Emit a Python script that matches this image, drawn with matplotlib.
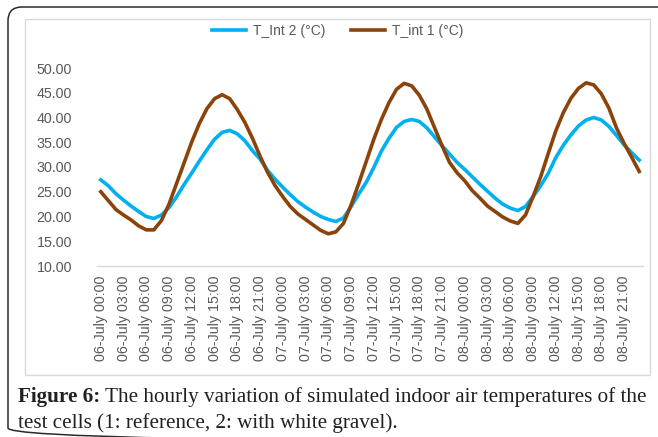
import numpy as np
import pandas as pd
import matplotlib
matplotlib.use("Agg")
import matplotlib.pyplot as plt
from matplotlib.patches import FancyBboxPatch, Rectangle

# ---------------------------------------------------------------------------
# Data (hourly values)
# ---------------------------------------------------------------------------
HOURS = pd.date_range("2017-07-06 00:00", periods=72, freq="h")
TICK_LABELS = [t.strftime("%d-%B %H:%M") for t in HOURS[::3]]

# T_Int 2 (white gravel), degC
T_INT2 = [27.4, 26.2, 24.6, 23.3, 22.1, 21.0, 20.0, 19.6, 20.3, 21.8, 24.0, 26.5,
          28.8, 31.2, 33.5, 35.6, 37.0, 37.4, 36.7, 35.3, 33.3, 31.6, 29.3, 27.5,
          25.9, 24.4, 23.0, 21.9, 20.9, 20.0, 19.4, 19.0, 19.7, 22.0, 24.5, 26.9,
          29.9, 33.2, 35.8, 38.0, 39.2, 39.6, 39.2, 37.9, 36.1, 34.3, 32.6, 30.9,
          29.5, 28.0, 26.5, 25.1, 23.7, 22.5, 21.7, 21.2, 22.0, 24.0, 26.2, 28.7,
          31.9, 34.4, 36.5, 38.3, 39.5, 40.0, 39.5, 38.2, 36.4, 34.5, 32.9, 31.4]

# T_int 1 (reference), degC
T_INT1 = [25.0, 23.2, 21.4, 20.3, 19.3, 18.1, 17.3, 17.3, 19.2, 22.5, 26.7, 30.9,
          35.1, 38.8, 41.8, 43.8, 44.6, 43.8, 41.6, 39.0, 35.8, 32.2, 28.9, 26.2,
          24.0, 22.0, 20.5, 19.4, 18.3, 17.2, 16.5, 16.9, 18.6, 22.3, 26.6, 31.1,
          35.6, 39.6, 43.0, 45.7, 46.9, 46.4, 44.5, 41.7, 38.0, 34.3, 30.9, 28.8,
          27.2, 25.2, 23.7, 22.1, 21.0, 19.9, 19.1, 18.6, 20.3, 24.0, 28.0, 32.7,
          37.3, 41.0, 43.9, 45.9, 47.0, 46.6, 44.8, 41.9, 37.9, 34.8, 32.0, 29.1]

SERIES = [("T_Int 2 (°C)", T_INT2, "#00B0F0"),
          ("T_int 1 (°C)", T_INT1, "#8B4309")]

Y_TICKS = [10, 15, 20, 25, 30, 35, 40, 45, 50]

CAPTION_BOLD = "Figure 6:"
CAPTION_1 = "The hourly variation of simulated indoor air temperatures of the"
CAPTION_2 = "test cells (1: reference, 2: with white gravel)."

W, H = 658, 437
GREY = "#595959"

plt.rcParams["font.family"] = ["Liberation Sans", "DejaVu Sans"]

fig = plt.figure(figsize=(W / 100, H / 100), dpi=100)

# background layer in pixel units (page frame, chart box, caption)
bg = fig.add_axes([0, 0, 1, 1])
bg.set_xlim(0, W)
bg.set_ylim(H, 0)
bg.axis("off")
bg.add_patch(FancyBboxPatch((8, 7), 720, 435,
                            boxstyle="round,pad=0,rounding_size=14",
                            fill=False, ec="#2a2a2a", lw=1.1))
bg.add_patch(Rectangle((25, 19), 625, 356, fc="white", ec="#d9d9d9", lw=1.0))

# chart
ax = fig.add_axes([97 / W, 1 - 266 / H, 546 / W, 198 / H])
ax.patch.set_alpha(0)
x = np.arange(len(HOURS))
for label, vals, col in SERIES:
    ax.plot(x, vals, color=col, lw=2.6, label=label, solid_joinstyle="round")

ax.set_xlim(-0.5, len(HOURS) - 0.5)
ax.set_ylim(10, 50)
ax.set_yticks(Y_TICKS)
ax.set_yticklabels([f"{v:.2f}" for v in Y_TICKS])
ax.set_xticks(x[::3])
ax.set_xticklabels(TICK_LABELS, rotation=90, ha="center", va="top")
for s in ("top", "right", "left"):
    ax.spines[s].set_visible(False)
ax.spines["bottom"].set_color("#d9d9d9")
ax.spines["bottom"].set_linewidth(1.0)
ax.tick_params(axis="both", length=0, colors=GREY, labelsize=10.3)
ax.tick_params(axis="y", pad=18)
ax.tick_params(axis="x", pad=7)

fig.legend(loc="center", bbox_to_anchor=(337.5 / W, 1 - 31 / H), ncol=2,
           frameon=False, fontsize=10, handlelength=2.45, handletextpad=0.5,
           columnspacing=1.87, labelcolor=GREY)

# caption
cap_font = ["Liberation Serif", "DejaVu Serif"]
t1 = bg.text(18, 402, CAPTION_BOLD, family=cap_font, fontsize=15.2,
             fontweight="bold", color="#231f20", va="baseline", ha="left")
r = fig.canvas.get_renderer()
bb = t1.get_window_extent(r)
bg.text(bb.x1 + 5, 402, CAPTION_1, family=cap_font, fontsize=15.2,
        color="#231f20", va="baseline", ha="left")
bg.text(18, 428, CAPTION_2, family=cap_font, fontsize=15.2,
        color="#231f20", va="baseline", ha="left")

fig.savefig("out.png", dpi=100)
